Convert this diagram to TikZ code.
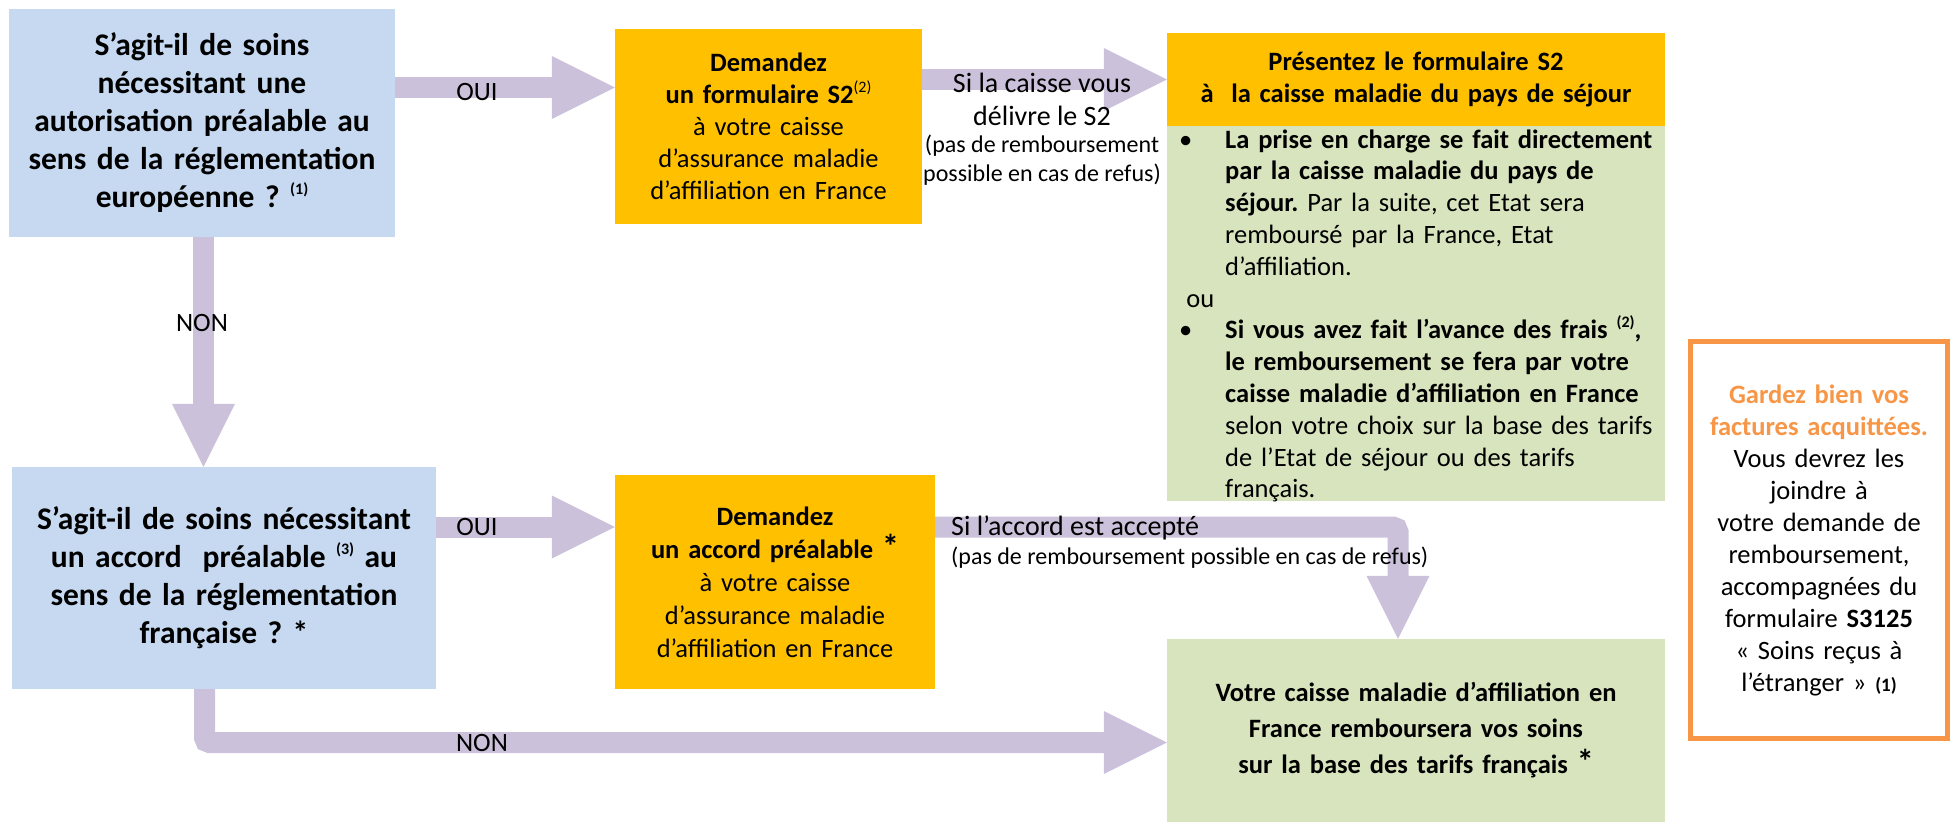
\documentclass[tikz,border=0pt]{standalone}
\usepackage{fontspec}
\setmainfont{Carlito}
\usetikzlibrary{arrows.meta}
\frenchspacing
\definecolor{bluebox}{RGB}{198,217,240}
\definecolor{orangebox}{RGB}{255,192,0}
\definecolor{greenbox}{RGB}{215,228,189}
\definecolor{arrowc}{RGB}{204,193,218}
\definecolor{noteorange}{RGB}{247,150,70}
\newcommand\supx[1]{\raisebox{0.42em}{\fontsize{16}{16}\selectfont #1}}
\newcommand\astbig{{\fontsize{34}{34}\selectfont\bfseries *}}
\newcommand\hang[2]{\leavevmode\llap{#1\hspace{#2}}}
\begin{document}
\begin{tikzpicture}[x=1pt,y=-1pt,
  box/.style={rectangle, inner sep=0pt, align=center},
  flow/.style={draw=arrowc, line width=21pt, -{Triangle[width=63pt,length=63pt,line width=0pt]}},
  lbl/.style={inner sep=0pt, font=\fontsize{26.5}{31.8}\selectfont}]
\useasboundingbox (0,0) rectangle (1958,822);

% boxes
\node[box, fill=bluebox, minimum width=386pt, minimum height=228pt, text width=380pt,
  font=\fontsize{31.5}{38}\selectfont\bfseries] (b1) at (202,123)
  {S’agit-il de soins\\nécessitant une\\autorisation préalable au\\sens de la réglementation\\européenne ? \supx{(1)}};
\node[box, fill=orangebox, minimum width=307pt, minimum height=195pt, text width=300pt,
  font=\fontsize{26.5}{32}\selectfont] (o1) at (768.5,126.5)
  {\textbf{Demandez}\\\textbf{un formulaire S2}\supx{(2)}\\à votre caisse\\d’assurance maladie\\d’affiliation en France};
\node[box, fill=orangebox, minimum width=498pt, minimum height=93pt, text width=490pt,
  font=\fontsize{26.5}{32}\selectfont\bfseries] (h1) at (1416,79.5)
  {Présentez le formulaire S2\\à~ la caisse maladie du pays de séjour};
\node[box, fill=greenbox, minimum width=498pt, minimum height=375pt] (g1) at (1416,313.5) {};
\node[box, fill=bluebox, minimum width=424pt, minimum height=222pt, text width=418pt,
  font=\fontsize{31.5}{38}\selectfont\bfseries] (b2) at (224,578)
  {S’agit-il de soins nécessitant\\un accord~ préalable \supx{(3)} au\\sens de la réglementation\\française ? *};
\node[box, fill=orangebox, minimum width=320pt, minimum height=214pt, text width=312pt,
  font=\fontsize{26.5}{33}\selectfont] (o2) at (775,582)
  {\textbf{Demandez}\\\textbf{un accord préalable} \astbig\\à votre caisse\\d’assurance maladie\\d’affiliation en France};
\node[box, fill=greenbox, minimum width=498pt, minimum height=183pt, text width=490pt,
  font=\fontsize{26.5}{36}\selectfont\bfseries] (g2) at (1416,730.5)
  {Votre caisse maladie d’affiliation en\\France remboursera vos soins\\sur la base des tarifs français \astbig};
\node[box, draw=noteorange, line width=5pt, fill=white, minimum width=257pt, minimum height=397pt,
  text width=250pt, font=\fontsize{26.5}{32}\selectfont] (note) at (1819,540)
  {{\color{noteorange}\bfseries Gardez bien vos\\factures acquittées.}\\Vous devrez les\\joindre à\\votre demande de\\remboursement,\\accompagnées du\\formulaire \textbf{S3125}\\«~Soins reçus à\\l’étranger~» {\bfseries\fontsize{19}{19}\selectfont(1)}};

% text of the green box
\node[anchor=base west, inner sep=0pt, text width=435pt, align=left,
  font=\fontsize{26.5}{31.8}\selectfont] (g1t) at (1225,148)
  {\hang{•}{33pt}\textbf{La prise en charge se fait directement}\\
   \textbf{par la caisse maladie du pays de}\\
   \textbf{séjour.} Par la suite, cet Etat sera\\
   remboursé par la France, Etat\\
   d’affiliation.\\
   \hang{ou}{11pt}\\
   \hang{•}{33pt}\textbf{Si vous avez fait l’avance des frais \supx{(2)},}\\
   \textbf{le remboursement se fera par votre}\\
   \textbf{caisse maladie d’affiliation en France}\\
   selon votre choix sur la base des tarifs\\
   de l’Etat de séjour ou des tarifs\\
   français.};

% helper coordinates
\coordinate (y1) at (0,87.5);
\coordinate (y2) at (0,79.5);
\coordinate (x1) at (203.5,0);
\coordinate (y3) at (0,527);
\coordinate (x3) at (1398,0);
\coordinate (x4) at (204.5,0);
\coordinate (y4) at (0,742.5);

% connectors
\draw[flow] (b1.east |- y1) -- (o1.west |- y1);
\draw[flow] (o1.east |- y2) -- (h1.west |- y2);
\draw[flow] (b1.south -| x1) -- (b2.north -| x1);
\draw[flow] (b2.east |- y3) -- (o2.west |- y3);
\draw[flow, rounded corners=5pt] (o2.east |- y3) -- (x3 |- y3) -- (g2.north -| x3);
\draw[flow, rounded corners=5pt] (b2.south -| x4) -- (x4 |- y4) -- (g2.west |- y4);

% connector labels
\node[lbl] (l1) at (477,92) {OUI};
\node[lbl] (l2) at (202,323) {NON};
\node[lbl] (l3) at (477,527) {OUI};
\node[lbl] (l4) at (482,743) {NON};
\node[lbl, align=center, font=\fontsize{28}{33}\selectfont] (l5) at (1042,99) {Si la caisse vous\\délivre le S2};
\node[lbl, align=center, font=\fontsize{24}{28.5}\selectfont] (l6) at (1042,160) {(pas de remboursement\\possible en cas de refus)};
\node[lbl, anchor=west, font=\fontsize{28}{33}\selectfont] (l7) at (951,528) {Si l’accord est accepté};
\node[lbl, anchor=west, font=\fontsize{24}{28}\selectfont] (l8) at (951,558) {(pas de remboursement possible en cas de refus)};
\end{tikzpicture}
\end{document}
